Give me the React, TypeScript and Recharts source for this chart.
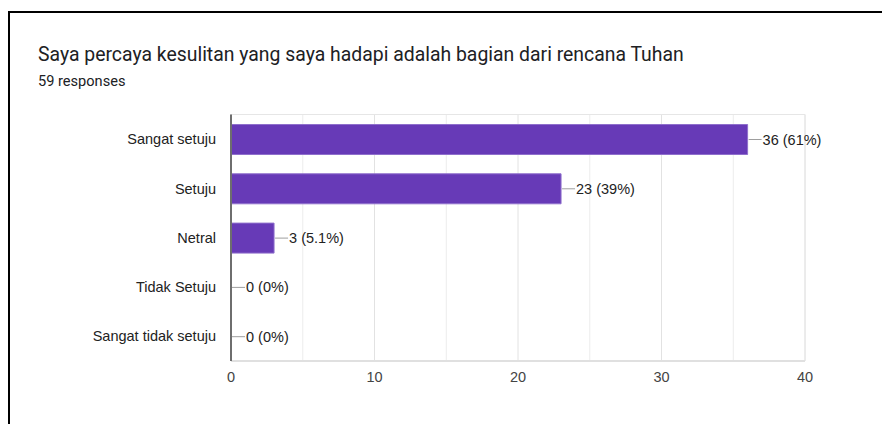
import React from "react";
import {
  BarChart,
  Bar,
  Cell,
  XAxis,
  YAxis,
  CartesianGrid,
  ReferenceArea,
  LabelList,
} from "recharts";

const categories = ["Sangat setuju", "Setuju", "Netral", "Tidak Setuju", "Sangat tidak setuju"];
const counts = [36, 23, 3, 0, 0];
const percents = ["61%", "39%", "5.1%", "0%", "0%"];
const xTicks = [0, 10, 20, 30, 40];
const minorTicks = [5, 15, 25, 35];

const data = categories.map((name, i) => ({ name, count: counts[i], pct: percents[i] }));

const chartFont = "Arial, 'Liberation Sans', sans-serif";

function ValueLabel(props: any) {
  const { x, y, width, height, index } = props;
  const end = Number(x) + (counts[index] === 0 ? 0 : Number(width));
  const cy = Number(y) + Number(height) / 2;
  return (
    <g>
      <line x1={end + 1} y1={cy} x2={end + 14} y2={cy} stroke="#9e9e9e" strokeWidth={1} />
      <text x={end + 15} y={cy} dy="0.35em" fontSize={14.5} fontFamily={chartFont} fill="#222">
        {`${counts[index]} (${percents[index]})`}
      </text>
    </g>
  );
}

// minor gridlines at the 5s, placed through the axis scale
const minorGrid = ({ xAxis, offset }: any) =>
  minorTicks.map((t) =>
    xAxis && typeof xAxis.scale === "function"
      ? xAxis.scale(t)
      : offset.left + (t / 40) * offset.width
  );

export default function App() {
  return (
    <div
      style={{
        position: "relative",
        top: 3,
        width: 882,
        height: 416,
        borderTop: "2px solid #000",
        borderLeft: "2px solid #000",
        boxSizing: "border-box",
        background: "#fff",
      }}
    >
      <div
        style={{
          position: "absolute",
          left: 28,
          top: 32,
          fontFamily: "Roboto, sans-serif",
          fontSize: 19.4,
          lineHeight: "19.4px",
          color: "#202124",
          whiteSpace: "nowrap",
        }}
      >
        Saya percaya kesulitan yang saya hadapi adalah bagian dari rencana Tuhan
      </div>
      <div
        style={{
          position: "absolute",
          left: 28,
          top: 61,
          fontFamily: "Roboto, sans-serif",
          fontSize: 14.6,
          lineHeight: "14.6px",
          color: "#202124",
          whiteSpace: "nowrap",
        }}
      >
        59 responses
      </div>
      <div style={{ position: "absolute", left: 0, top: 0 }}>
        <BarChart
          width={880}
          height={403}
          data={data}
          layout="vertical"
          margin={{ top: 101.5, right: 85, bottom: 25, left: 0 }}
        >
          <CartesianGrid
            horizontal={false}
            stroke="#ececec"
            verticalCoordinatesGenerator={minorGrid}
          />
          <CartesianGrid horizontal={false} stroke="#e2e2e2" />
          <ReferenceArea x1={0} x2={40} fill="none" stroke="#e6e6e6" strokeWidth={1} />
          <XAxis
            type="number"
            domain={[0, 40]}
            ticks={xTicks}
            tickLine={false}
            axisLine={{ stroke: "#e0e0e0", strokeWidth: 2 }}
            tickSize={0}
            tickMargin={11}
            height={30}
            tick={{ fontSize: 14.5, fontFamily: chartFont, fill: "#444" }}
          />
          <YAxis
            type="category"
            dataKey="name"
            width={221}
            tickLine={false}
            tickSize={0}
            tickMargin={15}
            axisLine={{ stroke: "#6e6e6e", strokeWidth: 2 }}
            tick={{ fontSize: 14.5, fontFamily: chartFont, fill: "#222" }}
          />
          <Bar
            dataKey="count"
            fill="#673ab7"
            stroke="#8f6fcc"
            strokeWidth={1}
            barSize={30}
            minPointSize={1}
            isAnimationActive={false}
          >
            {data.map((d, i) => (
              <Cell
                key={d.name}
                fill={counts[i] === 0 ? "none" : "#673ab7"}
                stroke={counts[i] === 0 ? "none" : "#8f6fcc"}
              />
            ))}
            <LabelList dataKey="count" content={<ValueLabel />} />
          </Bar>
        </BarChart>
      </div>
    </div>
  );
}
